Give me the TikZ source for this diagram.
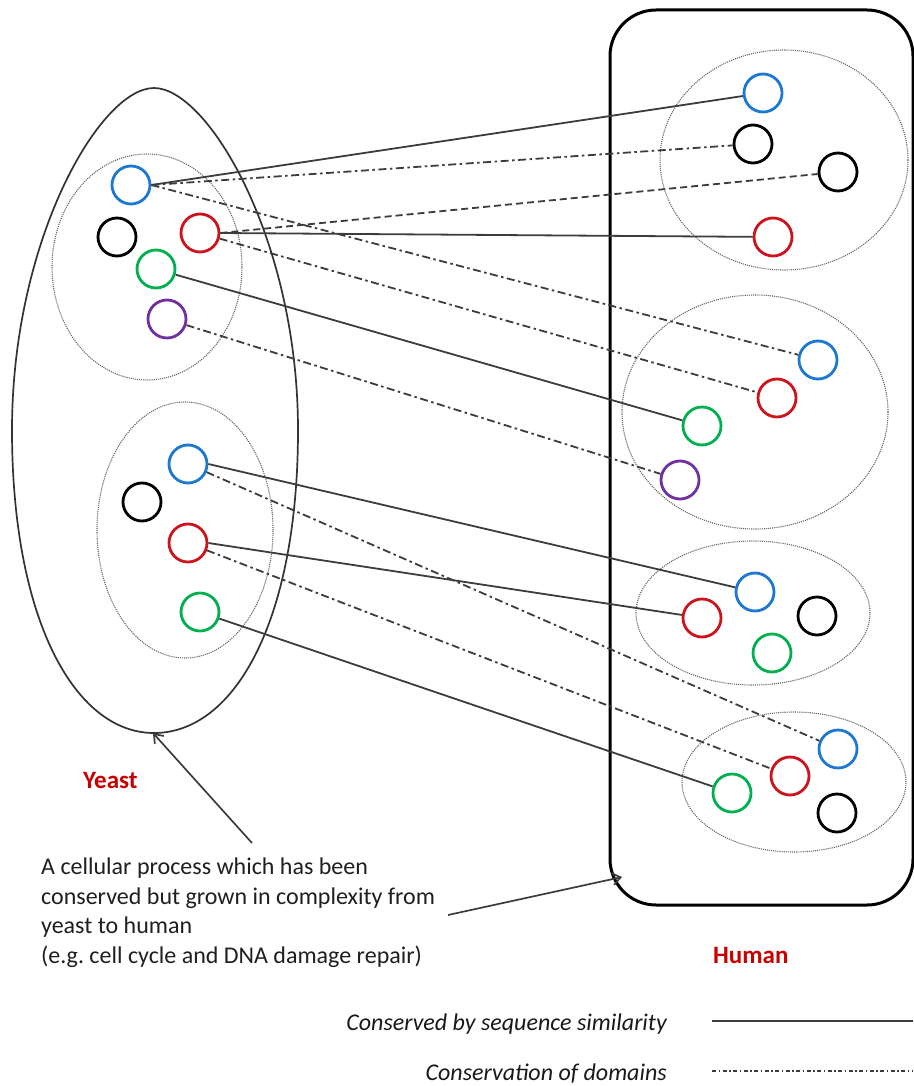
\documentclass[tikz,border=0pt]{standalone}
\usepackage{fontspec}
\setmainfont{Carlito}
\usetikzlibrary{shapes.geometric,arrows.meta}
\definecolor{cblue}{RGB}{28,120,208}
\definecolor{cred}{RGB}{204,20,30}
\definecolor{cgreen}{RGB}{0,176,80}
\definecolor{cpurple}{RGB}{112,48,160}
\definecolor{lblred}{RGB}{200,0,0}
\definecolor{conn}{RGB}{60,60,60}
\frenchspacing
\begin{document}
\begin{tikzpicture}[x=1pt,y=-1pt,
  prot/.style={circle,draw,line width=2.8pt,minimum size=38pt,inner sep=0pt},
  pb/.style={prot,draw=cblue},
  pr/.style={prot,draw=cred},
  pg/.style={prot,draw=cgreen},
  pk/.style={prot,draw=black},
  pp/.style={prot,draw=cpurple},
  grp/.style={ellipse,draw=black!60,densely dotted,line width=1.1pt,inner sep=0pt},
  seqsim/.style={draw=conn,line width=1.8pt},
  domline/.style={draw=conn,line width=1.8pt,dash pattern=on 8pt off 3.5pt on 2.5pt off 3.5pt},
  dashline/.style={draw=conn,line width=1.8pt,dash pattern=on 7pt off 4pt},
  arr/.style={draw=conn,line width=1.7pt,-{Straight Barb[length=8pt,width=12pt]}},
  lbl/.style={font=\fontsize{25}{30}\selectfont\bfseries,text=lblred,inner sep=0pt},
  legtext/.style={font=\fontsize{24}{29}\selectfont\itshape,inner sep=0pt,text=black!90}
]
\useasboundingbox (0,0) rectangle (913,1086);

% yeast outer egg
\draw[line width=1.7pt,black!80] (154,88) .. controls (208,88) and (298,240) .. (298,430)
  .. controls (298,620) and (235,733) .. (154,733)
  .. controls (75,733) and (12,620) .. (12,430)
  .. controls (12,240) and (100,88) .. (154,88);

% human box
\node[draw,line width=3pt,rounded corners=46pt,minimum width=303pt,minimum height=895pt,inner sep=0pt] (human) at (761.5,457.5) {};

% group ellipses
\node[grp,minimum width=190pt,minimum height=226pt] (Y1) at (147,267) {};
\node[grp,minimum width=176pt,minimum height=256pt] (Y2) at (185,530) {};
\node[grp,minimum width=248pt,minimum height=220pt] (H1) at (784,160) {};
\node[grp,minimum width=266pt,minimum height=234pt] (H2) at (755,412) {};
\node[grp,minimum width=234pt,minimum height=144pt] (H3) at (753,613) {};
\node[grp,minimum width=224pt,minimum height=140pt] (H4) at (794,782) {};

% yeast proteins
\node[pb] (yb1) at (131,185) {};
\node[pk] (yk1) at (117,237) {};
\node[pr] (yr1) at (200,233) {};
\node[pg] (yg1) at (156,269) {};
\node[pp] (yp1) at (167,319) {};
\node[pb] (yb2) at (188,464) {};
\node[pk] (yk2) at (142,502) {};
\node[pr] (yr2) at (188,543) {};
\node[pg] (yg2) at (200,612) {};

% human proteins
\node[pb] (hb1) at (763,93) {};
\node[pk] (hk1) at (753,144) {};
\node[pk] (hk2) at (838,172) {};
\node[pr] (hr1) at (773,237) {};
\node[pb] (hb2) at (818,360) {};
\node[pr] (hr2) at (777,398) {};
\node[pg] (hg2) at (702,426) {};
\node[pp] (hp2) at (680,480) {};
\node[pb] (hb3) at (755,592) {};
\node[pk] (hk3) at (817,616) {};
\node[pr] (hr3) at (702,618) {};
\node[pg] (hg3) at (772,653) {};
\node[pb] (hb4) at (838,749) {};
\node[pr] (hr4) at (790,776) {};
\node[pk] (hk4) at (837,813) {};
\node[pg] (hg4) at (732,793) {};

% connectors
\draw[seqsim] (yb1.east) -- (hb1);
\draw[domline] (yb1.east) -- (hk1);
\draw[domline] (yb1.east) -- (hb2);
\draw[seqsim] (yr1.east) -- (hr1);
\draw[dashline] (yr1.east) -- (hk2);
\draw[domline] (yr1) -- (hr2);
\draw[seqsim] (yg1) -- (hg2);
\draw[domline] (yp1) -- (hp2);
\draw[seqsim] (yb2.east) -- (hb3);
\draw[domline] (yb2) -- (hb4);
\draw[seqsim] (yr2.east) -- (hr3);
\draw[domline] (yr2) -- (hr4);
\draw[seqsim] (yg2) -- (hg4);

% labels
\node[lbl,anchor=base west] (yeastlbl) at (83,788) {Yeast};
\node[lbl,anchor=base west] (humanlbl) at (713,963) {Human};

% description
\node[anchor=north west,align=left,inner sep=0pt,text=black!88,
  font=\fontsize{24}{29.5}\selectfont] (desc) at (41,858)
  {A cellular process which has been\\conserved but grown in complexity from\\yeast to human\\(e.g. cell cycle and DNA damage repair)};
\coordinate (a1s) at (252,843);
\coordinate (a1e) at (153,733);
\coordinate (a2s) at (448,915);
\coordinate (a2e) at (622,877);
\draw[arr] (a1s) -- (a1e);
\draw[arr] (a2s) -- (a2e);

% legend
\node[legtext,anchor=base east] (leg1) at (667,1030) {Conserved by sequence similarity};
\node[legtext,anchor=base east] (leg2) at (667,1080) {Conservation of domains};
\coordinate (l1s) at (712,1021);
\coordinate (l1e) at (913,1021);
\coordinate (l2s) at (712,1071);
\coordinate (l2e) at (913,1071);
\draw[draw=conn,line width=2pt] (l1s) -- (l1e);
\draw[draw=conn,line width=1.4pt,dash pattern=on 4pt off 2.5pt on 1.5pt off 2.5pt] (l2s) -- (l2e);
\end{tikzpicture}
\end{document}
